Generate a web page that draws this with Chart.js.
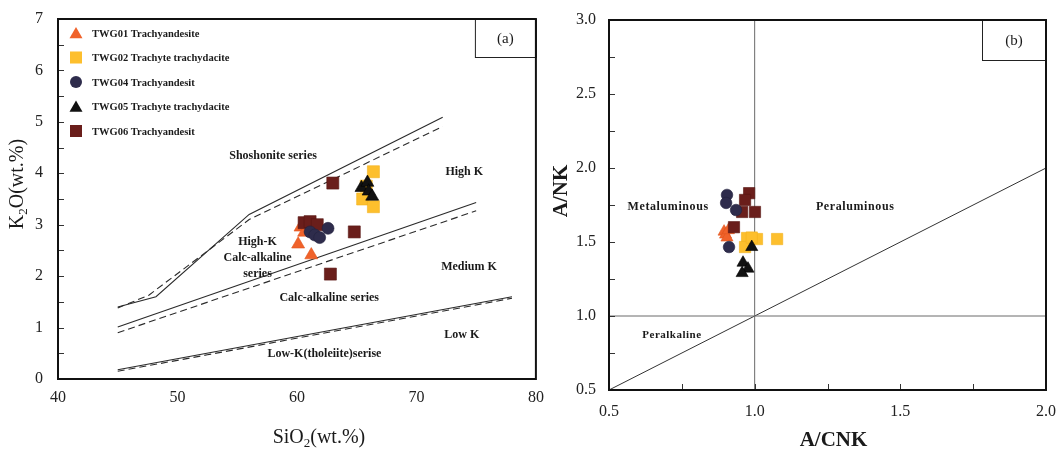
<!DOCTYPE html>
<html>
<head>
<meta charset="utf-8">
<script src="https://cdn.jsdelivr.net/npm/chart.js@4.4.1/dist/chart.umd.min.js"></script>
<style>
  html, body { margin: 0; padding: 0; background: #fff; }
  #wrap { position: relative; width: 1056px; height: 454px; overflow: hidden; }
  canvas { position: absolute; top: 0; }
  #chartA { left: 0; }
  #chartB { left: 545px; }
</style>
</head>
<body>
<div id="wrap">
  <canvas id="chartA" width="545" height="454"></canvas>
  <canvas id="chartB" width="511" height="454"></canvas>
</div>
<script>
// ---------- sample groups ----------
const seriesNames = [
  'TWG01 Trachyandesite',
  'TWG02 Trachyte trachydacite',
  'TWG04 Trachyandesit',
  'TWG05 Trachyte trachydacite',
  'TWG06 Trachyandesit'
];

// (a) SiO2 vs K2O (wt.%)
const twg01SiO2 = [60.3, 60.6, 60.1, 61.2];
const twg01K2O  = [2.95, 2.85, 2.62, 2.41];
const twg02SiO2 = [66.4, 65.5, 66.4, 65.8];
const twg02K2O  = [4.03, 3.50, 3.35, 3.75];
const twg04SiO2 = [61.1, 61.5, 61.9, 62.6];
const twg04K2O  = [2.86, 2.80, 2.75, 2.93];
const twg05SiO2 = [65.4, 65.9, 66.0, 66.3];
const twg05K2O  = [3.72, 3.82, 3.65, 3.55];
const twg06SiO2 = [60.6, 61.1, 61.7, 63.0, 64.8, 62.8];
const twg06K2O  = [3.04, 3.06, 3.00, 3.81, 2.86, 2.04];

// (b) A/CNK vs A/NK
const twg01ACNK = [0.895, 0.900, 0.905, 0.910];
const twg01ANK  = [1.57, 1.55, 1.53, 1.58];
const twg02ACNK = [0.974, 1.008, 1.077, 0.967, 0.990];
const twg02ANK  = [1.527, 1.520, 1.520, 1.466, 1.530];
const twg04ACNK = [0.905, 0.902, 0.936, 0.912];
const twg04ANK  = [1.818, 1.764, 1.716, 1.466];
const twg05ACNK = [0.990, 0.960, 0.977, 0.957];
const twg05ANK  = [1.466, 1.360, 1.320, 1.290];
const twg06ACNK = [0.981, 0.967, 0.957, 1.001, 0.929];
const twg06ANK  = [1.830, 1.784, 1.703, 1.703, 1.600];

// (a) series boundary lines (solid and dashed versions)
const shoSolidX = [45, 48.2, 56, 72.2];
const shoSolidY = [1.40, 1.60, 3.20, 5.09];
const shoDashX  = [45, 47.6, 56, 72.2];
const shoDashY  = [1.38, 1.63, 3.10, 4.91];
const hkSolidX  = [45, 75];
const hkSolidY  = [1.01, 3.43];
const hkDashX   = [45, 75];
const hkDashY   = [0.90, 3.27];
const lkSolidX  = [45, 78];
const lkSolidY  = [0.18, 1.60];
const lkDashX   = [45, 52.5, 78];
const lkDashY   = [0.15, 0.47, 1.57];

// (b) reference lines
const aluVertX = [1.0, 1.0];
const aluVertY = [0.5, 3.0];
const aluHorX  = [0.5, 2.0];
const aluHorY  = [1.0, 1.0];
const aluDiagX = [0.5, 2.0];
const aluDiagY = [0.5, 2.0];

// tick labels
const tickLabelsAX = ['40', '50', '60', '70', '80'];
const tickLabelsAY = ['0', '1', '2', '3', '4', '5', '6', '7'];
const tickLabelsBX = ['0.5', '1.0', '1.5', '2.0'];
const tickLabelsBY = ['0.5', '1.0', '1.5', '2.0', '2.5', '3.0'];

// ---------- helpers ----------
const SERIF = "'Liberation Serif', 'Times New Roman', 'DejaVu Serif', serif";
const pts = (xs, ys) => xs.map((x, i) => ({ x, y: ys[i] }));

const styles = [
  { style: 'triangle', color: '#F0622A', border: '#E0561E' },
  { style: 'rect',     color: '#FDBF2D', border: '#F2B21E' },
  { style: 'circle',   color: '#2E2C4C', border: '#24223E' },
  { style: 'triangle', color: '#111111', border: '#000000' },
  { style: 'rect',     color: '#6A1E1B', border: '#571512' }
];
// drawing priority: lower order is drawn on top
const drawOrder = [4, 5, 2, 1, 3];

function markerSets(xsList, ysList, sizes) {
  return xsList.map((xs, i) => ({
    label: seriesNames[i],
    data: pts(xs, ysList[i]),
    pointStyle: styles[i].style,
    pointRadius: sizes[styles[i].style],
    pointBackgroundColor: styles[i].color,
    pointBorderColor: styles[i].border,
    pointBorderWidth: 0.6,
    order: drawOrder[i]
  }));
}

function lineSet(xs, ys, dashed, color, width) {
  return {
    label: '',
    data: pts(xs, ys),
    showLine: true,
    pointRadius: 0,
    borderColor: color,
    borderWidth: width,
    borderDash: dashed ? [7, 4] : [],
    fill: false,
    order: 20
  };
}

function drawMarker(ctx, style, x, y, r, fill) {
  ctx.fillStyle = fill;
  ctx.beginPath();
  if (style === 'triangle') {
    const w = r * Math.sqrt(3) / 2;
    ctx.moveTo(x, y - r);
    ctx.lineTo(x + w, y + r / 2);
    ctx.lineTo(x - w, y + r / 2);
    ctx.closePath();
  } else if (style === 'rect') {
    const s = r * Math.SQRT1_2;
    ctx.rect(x - s, y - s, 2 * s, 2 * s);
  } else {
    ctx.arc(x, y, r, 0, Math.PI * 2);
  }
  ctx.fill();
}

// text made of [string, isSubscript] pieces, centred at (cx, cy)
function drawRichText(ctx, parts, cx, cy, size, bold, rotate) {
  const main = (bold ? 'bold ' : '') + size + 'px ' + SERIF;
  const sub = (bold ? 'bold ' : '') + Math.round(size * 0.65) + 'px ' + SERIF;
  let total = 0;
  const widths = parts.map(([t, s]) => { ctx.font = s ? sub : main; const w = ctx.measureText(t).width; total += w; return w; });
  ctx.save();
  ctx.translate(cx, cy);
  if (rotate) ctx.rotate(-Math.PI / 2);
  ctx.fillStyle = '#1a1a1a';
  ctx.textBaseline = 'middle';
  ctx.textAlign = 'left';
  let x = -total / 2;
  parts.forEach(([t, s], i) => {
    ctx.font = s ? sub : main;
    ctx.fillText(t, x, s ? size * 0.3 : 0);
    x += widths[i];
  });
  ctx.restore();
}

// frame, inner ticks, region names, panel tag, legend and axis titles
const panelDecor = {
  id: 'panelDecor',
  afterDraw(chart, args, o) {
    const { ctx, chartArea: a, scales } = chart;
    const xs = scales.x, ys = scales.y;
    ctx.save();

    // inward minor ticks
    ctx.strokeStyle = '#333';
    ctx.lineWidth = 1;
    (o.yTicks || []).forEach(v => {
      const py = Math.round(ys.getPixelForValue(v)) + 0.5;
      ctx.beginPath(); ctx.moveTo(a.left, py); ctx.lineTo(a.left + 6, py); ctx.stroke();
    });
    (o.xTicks || []).forEach(v => {
      const px = Math.round(xs.getPixelForValue(v)) + 0.5;
      ctx.beginPath(); ctx.moveTo(px, a.bottom); ctx.lineTo(px, a.bottom - 6); ctx.stroke();
    });

    // region names
    ctx.fillStyle = '#1a1a1a';
    ctx.textAlign = 'center';
    ctx.textBaseline = 'middle';
    o.notes.forEach(n => {
      ctx.font = 'bold ' + n.size + 'px ' + SERIF;
      if ('letterSpacing' in ctx) ctx.letterSpacing = (n.spacing || 0) + 'px';
      ctx.fillText(n.text, xs.getPixelForValue(n.x), ys.getPixelForValue(n.y));
    });
    if ('letterSpacing' in ctx) ctx.letterSpacing = '0px';

    // panel tag box in the upper right corner
    ctx.strokeStyle = '#222';
    ctx.lineWidth = 1;
    ctx.strokeRect(a.right - o.tag.w + 0.5, a.top + 0.5, o.tag.w, o.tag.h);
    ctx.font = '15px ' + SERIF;
    ctx.fillStyle = '#1a1a1a';
    ctx.fillText(o.tag.text, a.right - o.tag.w / 2, a.top + o.tag.h / 2 + 1);

    // legend
    if (o.legend) {
      ctx.textAlign = 'left';
      ctx.font = 'bold 10.5px ' + SERIF;
      seriesNames.forEach((name, i) => {
        const y = a.top + o.legend.top + i * o.legend.step;
        const st = styles[i];
        drawMarker(ctx, st.style, a.left + o.legend.dx, y + (st.style === 'triangle' ? 1.5 : 0), st.style === 'rect' ? 8.5 : (st.style === 'circle' ? 6 : 7.5), st.color);
        ctx.fillStyle = '#1a1a1a';
        ctx.fillText(name, a.left + o.legend.tx, y + 1);
      });
    }

    // plot frame
    ctx.strokeStyle = '#111';
    ctx.lineWidth = 2;
    ctx.strokeRect(a.left, a.top, a.right - a.left, a.bottom - a.top);

    // axis titles
    drawRichText(ctx, o.xTitle.parts, (a.left + a.right) / 2 + o.xTitle.dx, a.bottom + o.xTitle.dy, o.xTitle.size, o.xTitle.bold, false);
    drawRichText(ctx, o.yTitle.parts, o.yTitle.x, (a.top + a.bottom) / 2 + o.yTitle.dy, o.yTitle.size, o.yTitle.bold, true);

    ctx.restore();
  }
};

function axis(min, max, labels, fixedSize, isX, pad) {
  const values = labels.map(Number);
  return {
    type: 'linear',
    min, max,
    grid: { display: false, drawTicks: false },
    border: { display: false },
    afterBuildTicks: s => { s.ticks = values.map(v => ({ value: v })); },
    ticks: {
      padding: pad,
      color: '#222',
      font: { family: SERIF, size: 16 },
      callback: (v, i) => labels[i]
    },
    afterFit: s => {
      if (isX) s.height = fixedSize; else s.width = fixedSize;
      s.paddingLeft = 0; s.paddingRight = 0; s.paddingTop = 0; s.paddingBottom = 0;
    }
  };
}

// ---------- (a) K2O vs SiO2 ----------
new Chart(document.getElementById('chartA'), {
  type: 'scatter',
  data: {
    datasets: [
      ...markerSets(
        [twg01SiO2, twg02SiO2, twg04SiO2, twg05SiO2, twg06SiO2],
        [twg01K2O, twg02K2O, twg04K2O, twg05K2O, twg06K2O],
        { triangle: 7.5, rect: 8.5, circle: 6 }),
      lineSet(shoSolidX, shoSolidY, false, '#2a2a2a', 1.1),
      lineSet(shoDashX, shoDashY, true, '#2a2a2a', 1.1),
      lineSet(hkSolidX, hkSolidY, false, '#2a2a2a', 1.1),
      lineSet(hkDashX, hkDashY, true, '#2a2a2a', 1.1),
      lineSet(lkSolidX, lkSolidY, false, '#2a2a2a', 1.1),
      lineSet(lkDashX, lkDashY, true, '#2a2a2a', 1.1)
    ]
  },
  options: {
    responsive: false,
    animation: false,
    events: [],
    layout: { padding: { top: 19, right: 8, left: 0, bottom: 0 } },
    plugins: {
      legend: { display: false },
      tooltip: { enabled: false },
      panelDecor: {
        yTicks: [0.5, 1, 1.5, 2, 2.5, 3, 3.5, 4, 4.5, 5, 5.5, 6, 6.5],
        xTicks: [],
        tag: { text: '(a)', w: 61, h: 38 },
        legend: { top: 14, step: 24.5, dx: 18, tx: 34 },
        notes: [
          { text: 'Shoshonite series', x: 58.0, y: 4.33, size: 12 },
          { text: 'High K', x: 74.0, y: 4.02, size: 12 },
          { text: 'High-K', x: 56.7, y: 2.67, size: 12 },
          { text: 'Calc-alkaline', x: 56.7, y: 2.36, size: 12 },
          { text: 'series', x: 56.7, y: 2.05, size: 12 },
          { text: 'Medium K', x: 74.4, y: 2.18, size: 12 },
          { text: 'Calc-alkaline series', x: 62.7, y: 1.58, size: 12 },
          { text: 'Low K', x: 73.8, y: 0.86, size: 12 },
          { text: 'Low-K(tholeiite)serise', x: 62.3, y: 0.49, size: 12 }
        ],
        xTitle: { parts: [['SiO', false], ['2', true], ['(wt.%)', false]], dx: 22, dy: 59, size: 20, bold: false },
        yTitle: { parts: [['K', false], ['2', true], ['O(wt.%)', false]], x: 18, dy: -15, size: 20, bold: false }
      }
    },
    scales: {
      x: axis(40, 80, tickLabelsAX, 75, true, 9),
      y: axis(0, 7, tickLabelsAY, 58, false, 15)
    }
  },
  plugins: [panelDecor]
});

// ---------- (b) A/NK vs A/CNK ----------
new Chart(document.getElementById('chartB'), {
  type: 'scatter',
  data: {
    datasets: [
      ...markerSets(
        [twg01ACNK, twg02ACNK, twg04ACNK, twg05ACNK, twg06ACNK],
        [twg01ANK, twg02ANK, twg04ANK, twg05ANK, twg06ANK],
        { triangle: 7, rect: 8, circle: 5.8 }),
      lineSet(aluVertX, aluVertY, false, '#6a6a6a', 1),
      lineSet(aluHorX, aluHorY, false, '#6a6a6a', 1),
      lineSet(aluDiagX, aluDiagY, false, '#333333', 1)
    ]
  },
  options: {
    responsive: false,
    animation: false,
    events: [],
    layout: { padding: { top: 20, right: 10, left: 0, bottom: 0 } },
    plugins: {
      legend: { display: false },
      tooltip: { enabled: false },
      panelDecor: {
        yTicks: [0.75, 1, 1.25, 1.5, 1.75, 2, 2.25, 2.5, 2.75],
        xTicks: [0.75, 1, 1.25, 1.5, 1.75],
        tag: { text: '(b)', w: 64, h: 40 },
        legend: null,
        notes: [
          { text: 'Metaluminous', x: 0.703, y: 1.736, size: 12, spacing: 0.6 },
          { text: 'Peraluminous', x: 1.345, y: 1.736, size: 12, spacing: 0.6 },
          { text: 'Peralkaline', x: 0.716, y: 0.872, size: 11, spacing: 0.5 }
        ],
        xTitle: { parts: [['A/CNK', false]], dx: 6, dy: 51, size: 21, bold: true },
        yTitle: { parts: [['A/NK', false]], x: 17, dy: -14, size: 21, bold: true }
      }
    },
    scales: {
      x: axis(0.5, 2.0, tickLabelsBX, 64, true, 12),
      y: axis(0.5, 3.0, tickLabelsBY, 64, false, 13)
    }
  },
  plugins: [panelDecor]
});
</script>
</body>
</html>
